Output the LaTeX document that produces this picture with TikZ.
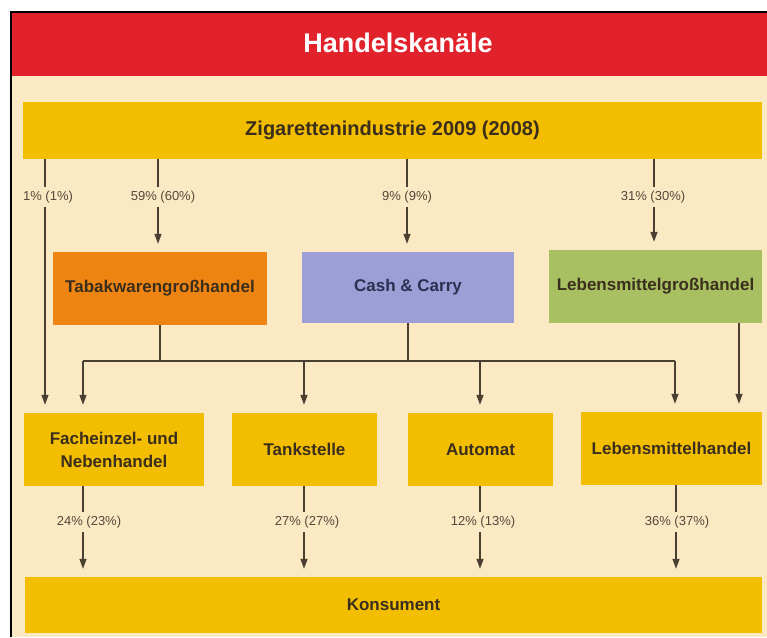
\documentclass[tikz,border=0pt]{standalone}
\usepackage{fontspec}
\setmainfont{Liberation Sans}
\usetikzlibrary{arrows.meta}
\definecolor{hred}{HTML}{E1222A}
\definecolor{cream}{HTML}{FBE9C4}
\definecolor{ylw}{HTML}{F3BD00}
\definecolor{orng}{HTML}{EE8412}
\definecolor{lav}{HTML}{9C9ED6}
\definecolor{grn}{HTML}{A9C062}
\definecolor{txt}{HTML}{3A2E1C}
\definecolor{navy}{HTML}{2B3050}
\definecolor{lbl}{HTML}{55483A}
\definecolor{ln}{HTML}{4A4032}
\begin{document}
\begin{tikzpicture}[x=1pt,y=-1pt,
  box/.style={draw=none, inner sep=0pt, align=center, text=txt,
    font=\bfseries\fontsize{17}{23}\selectfont},
  pct/.style={fill=cream, inner xsep=2pt, inner ysep=4pt, text=lbl,
    font=\fontsize{13}{15}\selectfont},
  conn/.style={draw=ln, line width=1.3pt},
  arr/.style={conn, -{Triangle[width=7pt,length=10pt]}, shorten >=8pt}]
\useasboundingbox (0,0) rectangle (767,637);
\fill[white] (0,0) rectangle (767,637);
\fill[cream] (11,12) rectangle (767,637);
\fill[hred] (11,12) rectangle (767,76);
\draw[black, line width=2.5pt] (11,637) -- (11,12) -- (767,12);
\node[text=white, font=\bfseries\fontsize{27}{30}\selectfont] (title) at (398,43) {Handelskanäle};

% boxes
\node[box, fill=ylw, minimum width=739pt, minimum height=57pt, font=\bfseries\fontsize{20}{24}\selectfont] (zig) at (392.5,130.5) {Zigarettenindustrie 2009 (2008)};
\node[box, fill=orng, minimum width=214pt, minimum height=73pt] (tabak) at (160,288.5) {Tabakwarengroßhandel};
\node[box, fill=lav, minimum width=212pt, minimum height=71pt, text=navy] (cash) at (408,287.5) {Cash \& Carry};
\node[box, fill=grn, minimum width=213pt, minimum height=73pt] (lgh) at (655.5,286.5) {Lebensmittelgroßhandel};
\node[box, fill=ylw, minimum width=180pt, minimum height=73pt] (fach) at (114,449.5) {Facheinzel- und\\Nebenhandel};
\node[box, fill=ylw, minimum width=145pt, minimum height=73pt] (tank) at (304.5,449.5) {Tankstelle};
\node[box, fill=ylw, minimum width=145pt, minimum height=73pt] (auto) at (480.5,449.5) {Automat};
\node[box, fill=ylw, minimum width=181pt, minimum height=73pt] (lh) at (671.5,448.5) {Lebensmittelhandel};
\node[box, fill=ylw, minimum width=737pt, minimum height=56pt] (kons) at (393.5,605) {Konsument};

% helper coordinates
\coordinate (c45) at (45,0);
\coordinate (c158) at (158,0);
\coordinate (c304) at (304,0);
\coordinate (c407) at (407,0);
\coordinate (c480) at (480,0);
\coordinate (c654) at (654,0);
\coordinate (c739) at (739,0);
\coordinate (c676) at (676,0);
\coordinate (bL) at (83,361);
\coordinate (bR) at (675,361);

% top arrows
\draw[arr] (c45 |- zig.south) -- (c45 |- fach.north);
\draw[arr] (c158 |- zig.south) -- (c158 |- tabak.north);
\draw[arr] (c407 |- zig.south) -- (c407 |- cash.north);
\draw[arr] (c654 |- zig.south) -- (c654 |- lgh.north);
\node[pct] (p1) at (48,197) {1\% (1\%)};
\node[pct] (p2) at (163,197) {59\% (60\%)};
\node[pct] (p3) at (407,197) {9\% (9\%)};
\node[pct] (p4) at (653,197) {31\% (30\%)};

% distribution
\draw[conn] (tabak.south) -- (tabak.south |- bL);
\draw[conn] (cash.south) -- (cash.south |- bL);
\draw[conn] (bL) -- (bR);
\draw[arr] (bL) -- (bL |- fach.north);
\draw[arr] (c304 |- bL) -- (c304 |- tank.north);
\draw[arr] (c480 |- bL) -- (c480 |- auto.north);
\draw[arr] (bR) -- (bR |- lh.north);
\draw[arr] (c739 |- lgh.south) -- (c739 |- lh.north);

% to consumer
\draw[arr] (bL |- fach.south) -- (bL |- kons.north);
\draw[arr] (c304 |- tank.south) -- (c304 |- kons.north);
\draw[arr] (c480 |- auto.south) -- (c480 |- kons.north);
\draw[arr] (c676 |- lh.south) -- (c676 |- kons.north);
\node[pct] (q1) at (89,522) {24\% (23\%)};
\node[pct] (q2) at (307,522) {27\% (27\%)};
\node[pct] (q3) at (483,522) {12\% (13\%)};
\node[pct] (q4) at (677,522) {36\% (37\%)};
\end{tikzpicture}
\end{document}
